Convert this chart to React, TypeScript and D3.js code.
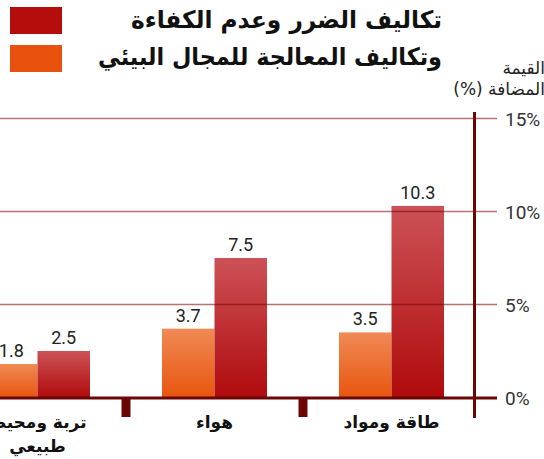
import React from "react";
import * as d3 from "d3";

const W = 544;
const H = 459;

// categories from left to right (RTL chart, rightmost first in reading order)
const categories = ["تربة ومحيط طبيعي", "هواء", "طاقة ومواد"];
const categoryLines = [["تربة ومحيط", "طبيعي"], ["هواء"], ["طاقة ومواد"]];
const remediationValues = [1.8, 3.7, 3.5]; // orange
const damageValues = [2.5, 7.5, 10.3]; // red
const yTicks = [0, 5, 10, 15];
const tickLabels = ["0%", "5%", "10%", "15%"];
const legendLabels = ["تكاليف الضرر وعدم الكفاءة", "وتكاليف المعالجة للمجال البيئي"];
const axisTitle = ["القيمة", "المضافة (%)"];

export default function App() {
  const x = d3.scaleBand<string>().domain(categories).range([-51, 480]).padding(0);
  const y = d3.scaleLinear().domain([0, 15]).range([397.5, 118.5]);
  const barW = 52.5;
  const arabic = "'DejaVu Sans', sans-serif";
  const num = "Roboto, 'Noto Sans', sans-serif";

  return (
    <svg width={W} height={H} style={{ position: "absolute", left: 0, top: 0 }}>
      <defs>
        <linearGradient id="gOrange" x1="0" y1="0" x2="0" y2="1">
          <stop offset="0" stopColor="#f08a55" />
          <stop offset="1" stopColor="#e8550d" />
        </linearGradient>
        <linearGradient id="gRed" x1="0" y1="0" x2="0" y2="1">
          <stop offset="0" stopColor="#cc5257" />
          <stop offset="1" stopColor="#b00b0c" />
        </linearGradient>
      </defs>
      <rect width={W} height={H} fill="#fff" />

      {/* Legend */}
      <rect x={10} y={7} width={52} height={27} fill="#b50c0c" />
      <rect x={10} y={45} width={52} height={27} fill="#e8520e" />
      <text x={442} y={28} textAnchor="start" direction="rtl" fontFamily={arabic} fontWeight={700} fontSize={24} fill="#111" textLength={311} lengthAdjust="spacingAndGlyphs">
        {legendLabels[0]}
      </text>
      <text x={442} y={65} textAnchor="start" direction="rtl" fontFamily={arabic} fontWeight={700} fontSize={24} fill="#111" textLength={344} lengthAdjust="spacingAndGlyphs">
        {legendLabels[1]}
      </text>

      {/* Axis title */}
      <text x={545} y={74} textAnchor="start" direction="rtl" fontFamily={arabic} fontSize={17} fill="#222">
        {axisTitle[0]}
      </text>
      <text x={545} y={95} textAnchor="start" direction="rtl" fontFamily={arabic} fontSize={17} fill="#222">
        {axisTitle[1]}
      </text>

      {/* Bars */}
      {categories.map((c, i) => {
        const cx = (x(c) as number) + x.bandwidth() / 2;
        const yo = y(remediationValues[i]);
        const yr = y(damageValues[i]);
        return (
          <g key={c}>
            <rect x={cx - barW} y={yo} width={barW} height={y(0) - yo} fill="url(#gOrange)" />
            <rect x={cx} y={yr} width={barW} height={y(0) - yr} fill="url(#gRed)" />
            <text x={cx - barW / 2} y={yo - 7} textAnchor="middle" fontFamily={num} fontSize={18} fill="#222">
              {remediationValues[i]}
            </text>
            <text x={cx + barW / 2} y={yr - 7} textAnchor="middle" fontFamily={num} fontSize={18} fill="#222">
              {damageValues[i]}
            </text>
          </g>
        );
      })}

      {/* Gridlines */}
      {yTicks.filter((t) => t > 0).map((t) => (
        <line key={t} x1={0} x2={497} y1={y(t)} y2={y(t)} stroke="rgba(120,0,0,0.55)" strokeWidth={1.5} />
      ))}

      {/* Baseline */}
      <line x1={0} x2={497} y1={398} y2={398} stroke="#6a0606" strokeWidth={3} />
      {/* Vertical axis */}
      <line x1={474.5} x2={474.5} y1={112} y2={418} stroke="#6a0606" strokeWidth={3} />

      {/* Category separators */}
      {categories.slice(1).map((c) => (
        <rect key={c} x={(x(c) as number) - 4.5} y={398} width={9} height={19} fill="#6a0606" />
      ))}

      {/* Tick labels */}
      {yTicks.map((t, i) => (
        <text key={t} x={505} y={y(t) + 7} fontFamily={num} fontSize={19} fill="#333">
          {tickLabels[i]}
        </text>
      ))}

      {/* Category labels */}
      {categories.map((c, i) => {
        const cx = (x(c) as number) + x.bandwidth() / 2;
        return (
          <text key={c} textAnchor="middle" direction="rtl" fontFamily={arabic} fontWeight={700} fontSize={17} fill="#111">
            {categoryLines[i].map((ln, j) => (
              <tspan key={j} x={cx} y={428 + j * 24}>
                {ln}
              </tspan>
            ))}
          </text>
        );
      })}
    </svg>
  );
}
